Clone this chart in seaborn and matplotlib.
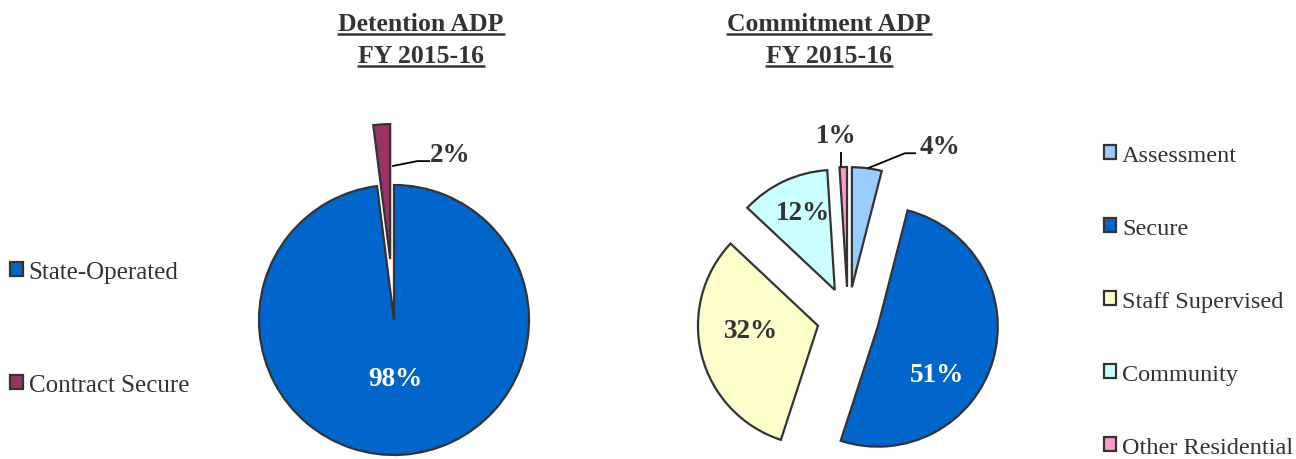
import numpy as np
import pandas as pd
import matplotlib
matplotlib.use("Agg")
import matplotlib.pyplot as plt
import seaborn as sns
from matplotlib.lines import Line2D

# ---------------- data ----------------
det_categories = ["State-Operated", "Contract Secure"]
det_values = [98, 2]
det_colors = ["#0066CC", "#993366"]

com_categories = ["Assessment", "Secure", "Staff Supervised", "Community", "Other Residential"]
com_values = [4, 51, 32, 12, 1]
com_colors = ["#99CCFF", "#0066CC", "#FFFFCC", "#CCFFFF", "#FF99CC"]

det_title = ["Detention ADP", "FY 2015-16"]
com_title = ["Commitment ADP", "FY 2015-16"]

# ---------------- style ----------------
sns.set_theme(style="white")
plt.rcParams['font.family'] = ['Liberation Serif', 'DejaVu Serif']
TXT = "#333333"
EDGE = "#333333"

W, H = 1296, 460
fig = plt.figure(figsize=(W / 100, H / 100), dpi=100)
ax = fig.add_axes([0, 0, 1, 1])

# layout (pixel units, y measured downward from top)
det_center, det_radius, det_explode = (394, 321), 135, [0, 61]
com_center, com_radius = (848, 319), 120
com_explode = [31] * len(com_values)

wp = dict(edgecolor=EDGE, linewidth=1.6)
det_w, _, det_t = ax.pie(det_values, colors=det_colors, startangle=90, counterclock=False,
                         center=(det_center[0], H - det_center[1]), radius=det_radius,
                         explode=det_explode, wedgeprops=wp, autopct="%.0f%%")
com_w, _, com_t = ax.pie(com_values, colors=com_colors, startangle=90, counterclock=False,
                         center=(com_center[0], H - com_center[1]), radius=com_radius,
                         explode=com_explode, wedgeprops=wp, autopct="%.0f%%")
ax.set_xlim(0, W)
ax.set_ylim(0, H)
ax.set_axis_off()

# label offsets from each wedge's (exploded) apex, pixels (dx, dy-down)
det_lab_off = [(1, 59), (60, -105)]
com_lab_off = [(88, -141), (59, 48), (-67, 5), (-32, -77), (-11, -152)]
det_lab_col = ["white", TXT]
com_lab_col = [TXT, "white", TXT, TXT, TXT]

def place(wedges, texts, offs, cols):
    pos = []
    for w, t, o, c in zip(wedges, texts, offs, cols):
        cx, cy = w.center
        p = (cx + o[0], cy - o[1])
        t.set_position(p)
        t.set_color(c)
        t.set_fontsize(19.5)
        t.set_fontweight("bold")
        pos.append(p)
    return pos

det_pos = place(det_w, det_t, det_lab_off, det_lab_col)
com_pos = place(com_w, com_t, com_lab_off, com_lab_col)

def leader(wedge, start_off, label_pos, pts_off):
    cx, cy = wedge.center
    xs = [cx + start_off[0]] + [label_pos[0] + p[0] for p in pts_off]
    ys = [cy - start_off[1]] + [label_pos[1] - p[1] for p in pts_off]
    ax.plot(xs, ys, color="black", lw=1.3, solid_capstyle="butt")

leader(det_w[1], (2, -93), det_pos[1], [(-33, 7), (-20, 7)])
leader(com_w[0], (16, -119), com_pos[0], [(-35, 7), (-24, 7)])
leader(com_w[4], (-6, -120), com_pos[4], [(5, 17)])

# ---------------- titles (underlined) ----------------
title_texts = []
for lines, xc in ((det_title, 421), (com_title, 829)):
    for i, s in enumerate(lines):
        base = 31 + 32 * i
        t = ax.text(xc, H - base, s, ha="center", va="baseline",
                    fontsize=18.5, fontweight="bold", color=TXT)
        title_texts.append((t, base))

# ---------------- legends ----------------
leg_kw = dict(frameon=False, handlelength=0.5, handleheight=0.5,
              handletextpad=0.25, borderpad=0, borderaxespad=0, labelcolor=TXT)
leg1 = ax.legend(det_w, det_categories, loc="upper left", fontsize=18,
                 bbox_to_anchor=(10 / W, 1 - 262 / H), labelspacing=3.63, **leg_kw)
ax.add_artist(leg1)
leg2 = ax.legend(com_w, com_categories, loc="upper left", fontsize=17.5,
                 bbox_to_anchor=(1104 / W, 1 - 146 / H), labelspacing=2.14, **leg_kw)

fig.canvas.draw()
r = fig.canvas.get_renderer()
for t, base in title_texts:
    bb = t.get_window_extent(r)
    y = H - (base + 3.5)
    fig.add_artist(Line2D([bb.x0 / W, bb.x1 / W], [y / H, y / H], color=TXT, lw=1.8,
                          transform=fig.transFigure))

fig.savefig("out.png", dpi=100)
